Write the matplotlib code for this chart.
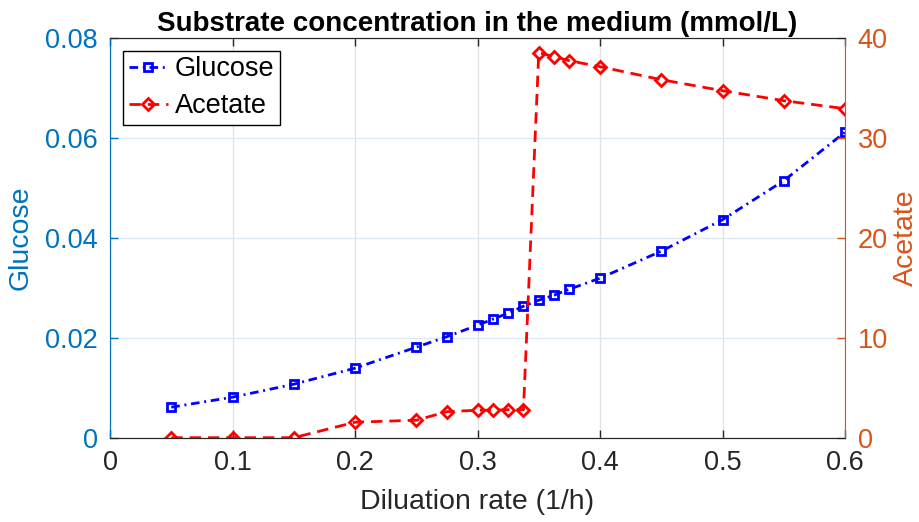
import numpy as np
import matplotlib
matplotlib.use("Agg")
from matplotlib import pyplot as plt

plt.rcParams['font.family'] = ['Liberation Sans', 'DejaVu Sans']

# dilution rate (1/h)
D = [0.05, 0.1, 0.15, 0.2, 0.25, 0.275, 0.3, 0.3125, 0.325, 0.3375,
     0.35, 0.3625, 0.375, 0.4, 0.45, 0.5, 0.55, 0.6]
glucose = [0.0061, 0.0081, 0.0107, 0.0139, 0.0181, 0.0202, 0.0225, 0.0237,
           0.0249, 0.0263, 0.0275, 0.0285, 0.0297, 0.0319, 0.0373, 0.0436,
           0.0514, 0.0611]
acetate = [0.0, 0.0, 0.0, 1.55, 1.75, 2.6, 2.75, 2.75, 2.8, 2.8,
           38.5, 38.1, 37.7, 37.1, 35.8, 34.7, 33.7, 32.9]

blue_ax = '#0072BD'
orange_ax = '#D95319'
dark = '#262626'

fig = plt.figure(figsize=(9.2, 5.22), dpi=100)
ax = fig.add_subplot(111)
fig.subplots_adjust(left=0.1196, right=0.9185, bottom=0.1615, top=0.9278)
ax2 = ax.twinx()

l1, = ax.plot(D, glucose, '-.s', color='blue', lw=2.0, ms=6,
              mfc='none', mew=2.0, dashes=(3.1, 1.7, 0.7, 1.7),
              label='Glucose')
l2, = ax2.plot(D, acetate, '--D', color='red', lw=2.0, ms=6,
               mfc='none', mew=2.0, dashes=(4.1, 2.5), label='Acetate')

ax.set_xlim(0, 0.6)
ax.set_ylim(0, 0.08)
ax2.set_ylim(0, 40)
ax.set_xticks(np.arange(0, 0.61, 0.1))
ax.set_xticklabels(['0', '0.1', '0.2', '0.3', '0.4', '0.5', '0.6'])
ax.set_yticks([0, 0.02, 0.04, 0.06, 0.08])
ax.set_yticklabels(['0', '0.02', '0.04', '0.06', '0.08'])
ax2.set_yticks([0, 10, 20, 30, 40])

# grid: vertical gray, horizontal bluish (MATLAB style)
ax.xaxis.grid(True, color='#e3e3e3', lw=1)
ax.yaxis.grid(True, color='#dde9f3', lw=1)
ax.set_axisbelow(True)

for a in (ax, ax2):
    a.tick_params(direction='in', length=6, width=1, labelsize=19.5, pad=9)
ax.tick_params(axis='x', colors=dark, top=True)
ax.tick_params(axis='y', colors=blue_ax)
ax2.tick_params(axis='y', colors=orange_ax)

for s in ('top', 'bottom'):
    ax.spines[s].set_color(dark)
    ax2.spines[s].set_color(dark)
ax2.spines['left'].set_color(blue_ax)
ax2.spines['right'].set_color(orange_ax)
ax.spines['left'].set_color(blue_ax)
ax.spines['right'].set_visible(False)

ax.set_xlabel('Diluation rate (1/h)', fontsize=20.5, color=dark, labelpad=9)
ax.set_ylabel('Glucose', fontsize=20.5, color=blue_ax, labelpad=8)
ax2.set_ylabel('Acetate', fontsize=20.5, color=orange_ax, labelpad=4,
               rotation=90)
ax.set_title('Substrate concentration in the medium (mmol/L)',
             fontsize=20, fontweight='bold', pad=5)

leg = ax2.legend(handles=[l1, l2], loc='upper left', fontsize=19.5,
                 fancybox=False, edgecolor='black', framealpha=1,
                 borderpad=0.2, handlelength=1.45, handletextpad=0.25,
                 labelspacing=0.4, borderaxespad=0,
                 bbox_to_anchor=(0.018, 0.967))
leg.get_frame().set_linewidth(1.0)

fig.savefig('out.png', dpi=100)
